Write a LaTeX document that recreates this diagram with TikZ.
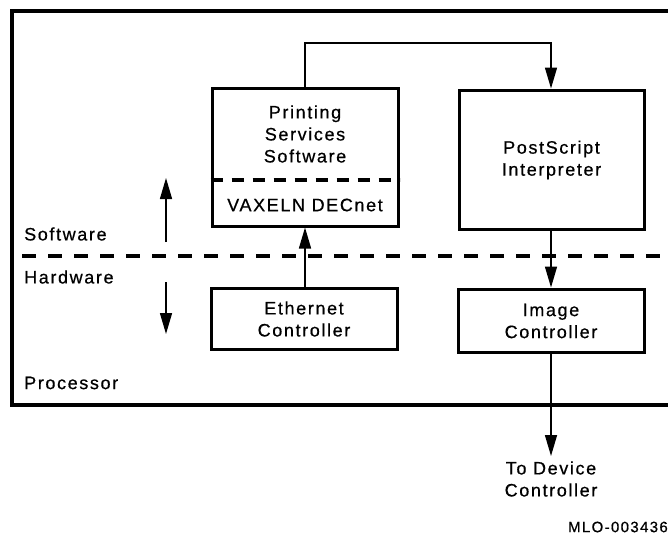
\documentclass[tikz,border=0pt]{standalone}
\usepackage{fontspec}
\setmainfont{Liberation Sans}[LetterSpace=9,FakeBold=0.6]
\usetikzlibrary{arrows.meta}
\begin{document}
\begin{tikzpicture}[x=1pt,y=-1pt,
  box/.style={draw,line width=3pt,inner sep=0pt},
  lbl/.style={font=\fontsize{18}{22}\selectfont,align=center,inner sep=0pt},
  side/.style={font=\fontsize{18}{22}\selectfont,anchor=west,inner sep=0pt},
  conn/.style={line width=1.5pt,-{Triangle[length=21pt,width=12pt]}},
  bigdash/.style={line width=3.6pt,dash pattern=on 14pt off 12pt}]
\useasboundingbox (0,0) rectangle (668,535);
% outer processor box
\draw[line width=3.2pt] (720,11) -- (12,11) -- (12,405) -- (720,405);
% boxes
\node[box,minimum width=186pt,minimum height=138pt] (pss) at (305,157) {};
\node[box,minimum width=185pt,minimum height=139pt] (ps) at (551.5,159.5) {};
\node[box,minimum width=186pt,minimum height=61pt] (eth) at (304,318.5) {};
\node[box,minimum width=186pt,minimum height=63pt] (img) at (551,320.5) {};
\coordinate (dl) at (pss.west |- 0,180);
\coordinate (dr) at (pss.east |- 0,180);
\draw[bigdash,line width=3.2pt,dash pattern=on 12pt off 9pt] (dl) -- (dr);
% texts
\node[lbl] (t1) at (305,134) {Printing\\Services\\Software};
\node[lbl] (t2) at (305,205) {VAXELN DECnet};
\node[lbl] (t3) at (551.5,160) {PostScript\\Interpreter};
\node[lbl] (t4) at (304,319) {Ethernet\\Controller};
\node[lbl] (t5) at (551,321) {Image\\Controller};
\node[side] (sw) at (24,234) {Software};
\node[side] (hw) at (24,277) {Hardware};
\node[side] (pr) at (24,383) {Processor};
\node[lbl] (out) at (551,479) {To Device\\Controller};
\node[font=\fontsize{15}{18}\selectfont,anchor=east,inner sep=0pt] (mlo) at (668,527) {MLO-003436};
% dashed separator
\coordinate (sl) at (22,256);
\coordinate (sr) at (680,256);
\draw[bigdash] (sl) -- (sr);
% connectors
\coordinate (topl) at (305,43);
\coordinate (topr) at (551,43);
\draw[conn] (pss.north -| topl) -- (topl) -- (topr) -- (ps.north -| topr);
\draw[conn] (eth.north) -- (pss.south |- eth.north) -- (pss.south);
\draw[conn] (ps.south -| img.north) -- (img.north);
\coordinate (outend) at (551,456);
\draw[conn] (img.south) -- (outend);
% software/hardware arrows
\coordinate (ua) at (166,242);
\coordinate (ub) at (166,178);
\coordinate (da) at (166,282);
\coordinate (db) at (166,334);
\draw[conn] (ua) -- (ub);
\draw[conn] (da) -- (db);
\end{tikzpicture}
\end{document}
